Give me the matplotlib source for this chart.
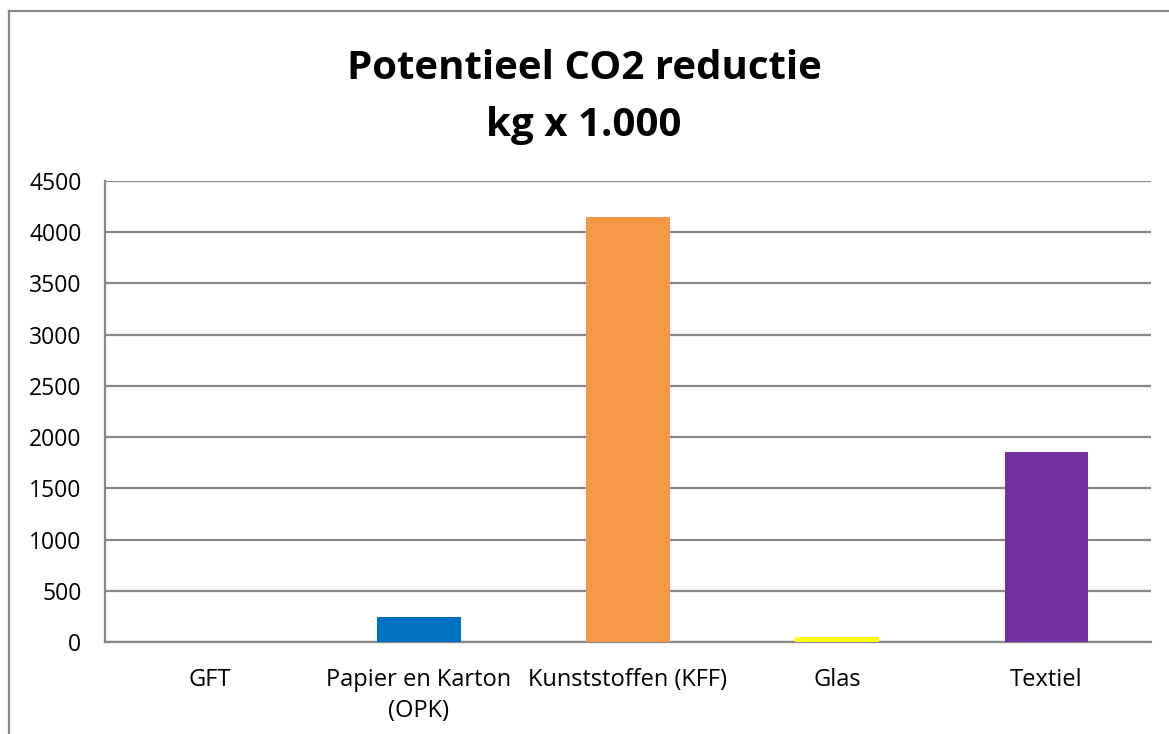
import matplotlib
matplotlib.use("Agg")
import matplotlib.pyplot as plt
from matplotlib.lines import Line2D

categories = ["GFT", "Papier en Karton\n(OPK)", "Kunststoffen (KFF)", "Glas", "Textiel"]
values = [0, 245, 4150, 50, 1850]
colors = ["#00B050", "#0070C0", "#F79646", "#FFFF00", "#7030A0"]
yticks = [0, 500, 1000, 1500, 2000, 2500, 3000, 3500, 4000, 4500]
title = "Potentieel CO2 reductie\nkg x 1.000"

plt.rcParams['font.family'] = ['Open Sans', 'DejaVu Sans']
grid_col = "#888888"

fig = plt.figure(figsize=(11.69, 7.34), dpi=100)
W, H = 1169, 734
ax = fig.add_axes([105 / W, 1 - 642 / H, (1151 - 105) / W, (642 - 181) / H])

x = list(range(len(categories)))
ax.bar(x, values, width=0.4, color=colors, zorder=3)
ax.set_xlim(-0.5, len(categories) - 0.5)
ax.set_ylim(0, 4500)
ax.set_yticks(yticks)
ax.set_yticklabels([str(v) for v in yticks], fontsize=16.5)
ax.set_xticks(x)
ax.set_xticklabels(categories, fontsize=17, linespacing=1.35, va='top')
ax.tick_params(axis='both', length=0)
ax.tick_params(axis='y', pad=17)
ax.tick_params(axis='x', pad=19)
ax.yaxis.grid(True, color=grid_col, linewidth=1.6, zorder=0)
for s in ['top', 'right']:
    ax.spines[s].set_visible(False)
ax.spines['left'].set_color(grid_col)
ax.spines['left'].set_linewidth(1.6)
ax.spines['bottom'].set_color(grid_col)
ax.spines['bottom'].set_linewidth(1.6)

fig.text(584 / W, 1 - 97 / H, title, ha='center', va='center', fontsize=29,
         fontweight='bold', linespacing=1.6)

# outer chart frame (cropped on right and bottom)
fig.add_artist(Line2D([9 / W, 9 / W], [0, 1 - 11 / H], color=grid_col, linewidth=1.6,
                      transform=fig.transFigure))
fig.add_artist(Line2D([9 / W, 1], [1 - 11 / H, 1 - 11 / H], color=grid_col, linewidth=1.6,
                      transform=fig.transFigure))

fig.savefig("out.png", dpi=100, facecolor="white")
